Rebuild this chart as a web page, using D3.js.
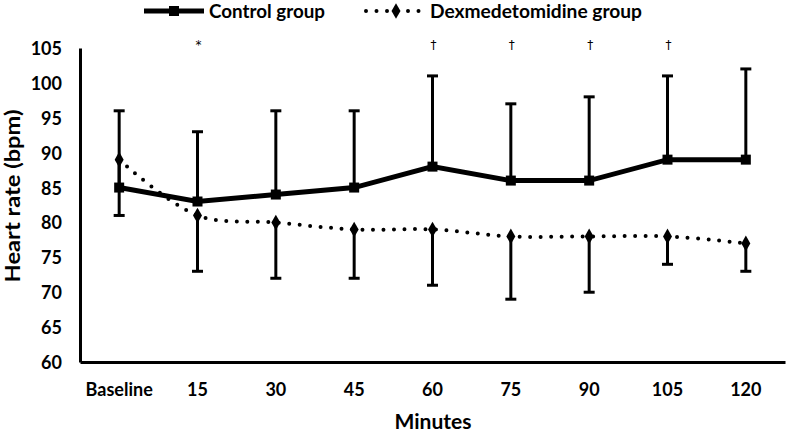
<!DOCTYPE html>
<html><head><meta charset="utf-8">
<script src="https://cdn.jsdelivr.net/npm/d3@7"></script>
<style>body{margin:0;background:#fff}svg{display:block}text{font-family:Lato,"Open Sans",sans-serif;font-weight:bold;fill:#000}</style>
</head><body><svg id="c" width="787" height="432"></svg>
<script>
const categories = ["Baseline","15","30","45","60","75","90","105","120"];
const controlMean = [85,83,84,85,88,86,86,89,89];
const controlUpper = [96,93,96,96,101,97,98,101,102];
const dexMean = [89,81,80,79,79,78,78,78,77];
const dexLower = [81,73,72,72,71,69,70,74,73];
const marks = ["","*","","","†","†","†","†",""];
const yTicks = [60,65,70,75,80,85,90,95,100,105];

const svg = d3.select("#c");
const x = d3.scaleBand().domain(categories).range([80,785]);
const cx = d => x(d) + x.bandwidth()/2;
const y = d3.scaleLinear().domain([60,105]).range([362,48]);

// axes
const yAxis = svg.append("g").attr("transform","translate(80,0)")
  .call(d3.axisLeft(y).tickValues(yTicks).tickSize(0).tickPadding(18));
yAxis.select(".domain").attr("stroke","#000").attr("stroke-width",3);
yAxis.selectAll("text").attr("font-size",18).attr("dy","0.36em").style("font-family","Lato").style("font-weight","bold");

const xAxis = svg.append("g").attr("transform","translate(0,362)")
  .call(d3.axisBottom(x).tickSize(0).tickPadding(20));
xAxis.select(".domain").attr("stroke","#000").attr("stroke-width",3);
xAxis.selectAll("text").attr("font-size",18).attr("dy",0).attr("y",34).style("font-family","Lato").style("font-weight","bold");

// titles
svg.append("text").attr("x",433).attr("y",429).attr("text-anchor","middle").attr("font-size",20)
  .attr("textLength",77).attr("lengthAdjust","spacingAndGlyphs").text("Minutes");
svg.append("text").attr("transform","translate(20,196) rotate(-90)").attr("text-anchor","middle").attr("font-size",20)
  .attr("textLength",173).attr("lengthAdjust","spacingAndGlyphs").text("Heart rate (bpm)");

// error bars
const eb = svg.append("g").attr("stroke","#000").attr("stroke-width",3);
categories.forEach((c,i)=>{
  const xx = cx(c);
  eb.append("line").attr("x1",xx).attr("x2",xx).attr("y1",y(controlMean[i])).attr("y2",y(controlUpper[i]));
  eb.append("line").attr("x1",xx-5.5).attr("x2",xx+5.5).attr("y1",y(controlUpper[i])).attr("y2",y(controlUpper[i]));
  eb.append("line").attr("x1",xx).attr("x2",xx).attr("y1",y(dexMean[i])).attr("y2",y(dexLower[i]));
  eb.append("line").attr("x1",xx-5.5).attr("x2",xx+5.5).attr("y1",y(dexLower[i])).attr("y2",y(dexLower[i]));
});

// dex smooth dotted line
const dexLine = d3.line().x((d,i)=>cx(categories[i])).y(d=>y(d)).curve(d3.curveCatmullRom.alpha(0.5));
svg.append("path").attr("d",dexLine(dexMean)).attr("fill","none").attr("stroke","#000")
  .attr("stroke-width",4).attr("stroke-linecap","round").attr("stroke-dasharray","0 10.5");
const diamond = d3.symbol().type(d3.symbolDiamond).size(70);
svg.append("g").selectAll("path").data(dexMean).join("path")
  .attr("d",diamond).attr("transform",(d,i)=>`translate(${cx(categories[i])},${y(d)})`).attr("fill","#000");

// control line
const ctlLine = d3.line().x((d,i)=>cx(categories[i])).y(d=>y(d));
svg.append("path").attr("d",ctlLine(controlMean)).attr("fill","none").attr("stroke","#000").attr("stroke-width",5);
svg.append("g").selectAll("rect").data(controlMean).join("rect")
  .attr("x",(d,i)=>cx(categories[i])-5).attr("y",d=>y(d)-5).attr("width",10).attr("height",10).attr("fill","#000");

// significance marks
svg.append("g").selectAll("text").data(marks).join("text")
  .attr("x",(d,i)=>cx(categories[i])+1).attr("y",49).attr("text-anchor","middle")
  .attr("font-size",12).style("font-family","'DejaVu Sans'").style("font-weight","normal").style("fill","#000").text(d=>d);

// legend
const lg = svg.append("g");
lg.append("line").attr("x1",144).attr("x2",204).attr("y1",11).attr("y2",11).attr("stroke","#000").attr("stroke-width",5);
lg.append("rect").attr("x",169).attr("y",6).attr("width",10).attr("height",10).attr("fill","#000");
lg.append("text").attr("x",209).attr("y",18).attr("font-size",19)
  .attr("textLength",116).attr("lengthAdjust","spacingAndGlyphs").text("Control group");
lg.append("line").attr("x1",366).attr("x2",420).attr("y1",11).attr("y2",11).attr("stroke","#000")
  .attr("stroke-width",4).attr("stroke-linecap","round").attr("stroke-dasharray","0 10.5");
lg.append("path").attr("d",diamond).attr("transform","translate(396,11)").attr("fill","#000");
lg.append("text").attr("x",430).attr("y",18).attr("font-size",19)
  .attr("textLength",212).attr("lengthAdjust","spacingAndGlyphs").text("Dexmedetomidine group");
</script></body></html>
